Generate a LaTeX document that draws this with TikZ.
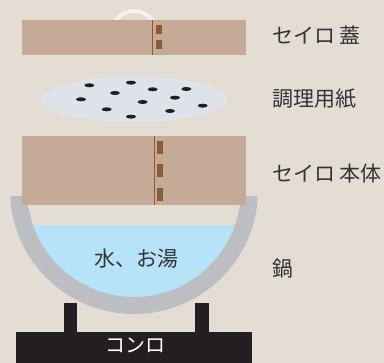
\documentclass[tikz,border=0pt]{standalone}
\usepackage{fontspec}
\newfontfamily\jp{Noto Sans CJK JP}

\definecolor{bgcolor}{HTML}{E4DDD4}
\definecolor{woodcolor}{HTML}{C4AA97}
\definecolor{seamcolor}{HTML}{8B5A38}
\definecolor{handlecolor}{HTML}{FCF1EA}
\definecolor{papercolor}{HTML}{DDE3E8}
\definecolor{dotcolor}{HTML}{231F20}
\definecolor{potcolor}{HTML}{BCBEC2}
\definecolor{watercolor}{HTML}{B6E3F7}
\definecolor{stovecolor}{HTML}{231F20}
\definecolor{textcolor}{HTML}{333333}

\tikzset{
  sidelabel/.style={anchor=west, inner sep=0pt, text=textcolor, font=\jp\fontsize{21}{24}\selectfont},
  inlabel/.style={inner sep=0pt, font=\jp\fontsize{21}{24}\selectfont}
}

\begin{document}
\begin{tikzpicture}[x=1pt, y=1pt]
    \fill[bgcolor] (0,0) rectangle (384,363);

    % lid with its handle
    \draw[handlecolor, line width=4pt] (156.5,329.5) arc (0:180:22.5);
    \fill[woodcolor] (22,308) rectangle (246,343);
    \draw[seamcolor, line width=1pt] (152.7,308) -- (152.7,343);
    \fill[seamcolor] (156,329) rectangle (162,338);
    \fill[seamcolor] (156,314) rectangle (162,323);

    % paper sheet
    \fill[papercolor] (134,263.5) ellipse (93.7 and 22.5);
    \foreach \x/\y in {89.3/277.7, 131/280.3, 152.7/273.7, 186.3/274,
                       115/270, 81/263.7, 175/265.3, 142.7/261,
                       202.7/257.3, 106.7/253.7, 170/252, 131/246.3}
        \fill[dotcolor] (\x,\y) ellipse (5 and 2);

    % stove legs
    \fill[stovecolor] (64,25) rectangle (77.3,59.7);
    \fill[stovecolor] (195,25) rectangle (208.7,59.7);

    % water inside the pot
    \begin{scope}
        \clip (0,0) rectangle (384,137);
        \fill[watercolor] (134,173) circle (108);
    \end{scope}

    % pot
    \draw[potcolor, line width=17pt] (134,173) ++(183:115.5) arc (183:357:115.5);

    % steamer body
    \fill[woodcolor] (22,158.3) rectangle (246,227);
    \draw[seamcolor, line width=1pt] (154.3,158.3) -- (154.3,227);
    \fill[seamcolor] (157.3,209.3) rectangle (163,222);
    \fill[seamcolor] (157.3,186.3) rectangle (163,199.3);
    \fill[seamcolor] (157.3,162.3) rectangle (163,175.3);

    % stove
    \fill[stovecolor] (15.7,0) rectangle (252.3,31.3);

    \node[inlabel, text=textcolor] (water) at (136.7,104) {水、お湯};
    \node[inlabel, text=white, font=\jp\fontsize{20}{24}\selectfont] (stove) at (135.5,17.3) {コンロ};

    \node[sidelabel] (lidlabel) at (272,328) {セイロ 蓋};
    \node[sidelabel] (paperlabel) at (272,264.7) {調理用紙};
    \node[sidelabel] (bodylabel) at (272,189.2) {セイロ 本体};
    \node[sidelabel] (potlabel) at (272,94.2) {鍋};
\end{tikzpicture}
\end{document}
